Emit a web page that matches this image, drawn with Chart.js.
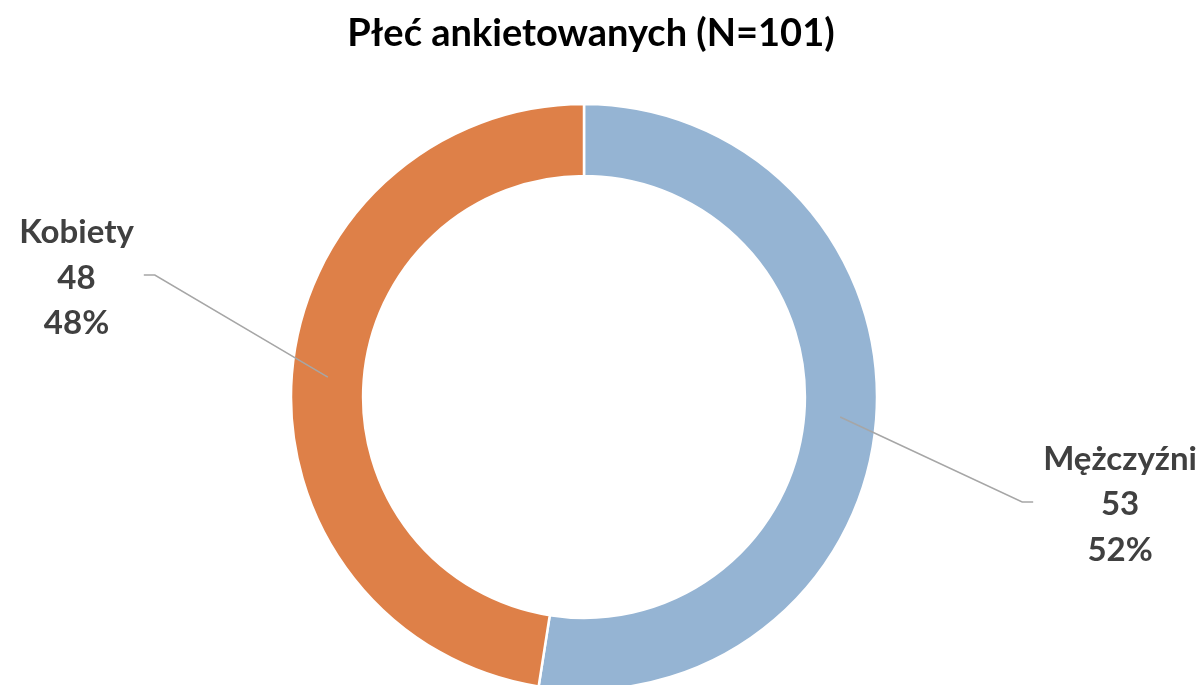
<!DOCTYPE html>
<html>
<head>
<meta charset="utf-8">
<script src="https://cdn.jsdelivr.net/npm/chart.js@4/dist/chart.umd.min.js"></script>
<style>
  html, body { margin: 0; padding: 0; background: #ffffff; }
  #wrap { width: 1204px; height: 685px; position: relative; }
</style>
</head>
<body>
<div id="wrap"><canvas id="c" width="1204" height="685"></canvas></div>
<script>
// ---- data ----
const categories = ['Mężczyźni', 'Kobiety'];
const counts = [53, 48];
const percentLabels = ['52%', '48%'];
const titleText = 'Płeć ankietowanych (N=101)';
const sliceColors = ['#95B4D3', '#DE8048'];

// ---- label layout (leader line elbow offsets relative to slice anchor) ----
const elbowOffsets = [[182, 85], [-173, -102]];
const FONT = 'Lato, Calibri, Carlito, "Open Sans", sans-serif';

const labelPlugin = {
  id: 'labelPlugin',
  afterDraw(chart) {
    const ctx = chart.ctx;
    ctx.save();
    // title
    ctx.fillStyle = '#000000';
    ctx.font = 'bold 38px ' + FONT;
    ctx.textAlign = 'center';
    ctx.textBaseline = 'alphabetic';
    ctx.fillText(titleText, 591, 46);

    const meta = chart.getDatasetMeta(0);
    meta.data.forEach((arc, i) => {
      const p = arc.getProps(['x', 'y', 'startAngle', 'endAngle', 'innerRadius', 'outerRadius'], true);
      const mid = (p.startAngle + p.endAngle) / 2;
      const r = (p.innerRadius + p.outerRadius) / 2;
      const sx = p.x + Math.cos(mid) * r;
      const sy = p.y + Math.sin(mid) * r;
      const ex = sx + elbowOffsets[i][0];
      const ey = sy + elbowOffsets[i][1];
      const dir = elbowOffsets[i][0] >= 0 ? 1 : -1;
      const hx = ex + dir * 11;
      ctx.strokeStyle = '#A6A6A6';
      ctx.lineWidth = 1.5;
      ctx.beginPath();
      ctx.moveTo(sx, sy);
      ctx.lineTo(ex, ey);
      ctx.lineTo(hx, ey);
      ctx.stroke();

      const lines = [categories[i], String(counts[i]), percentLabels[i]];
      ctx.font = 'bold 33px ' + FONT;
      const maxW = Math.max(...lines.map(t => ctx.measureText(t).width));
      const cx = hx + dir * (10 + maxW / 2);
      ctx.fillStyle = '#404040';
      ctx.textAlign = 'center';
      lines.forEach((t, k) => {
        ctx.fillText(t, cx, ey - 32 + k * 45.5);
      });
    });
    ctx.restore();
  }
};

new Chart(document.getElementById('c'), {
  type: 'doughnut',
  data: {
    labels: categories,
    datasets: [{
      data: counts,
      backgroundColor: sliceColors,
      borderColor: '#ffffff',
      borderWidth: 2.5
    }]
  },
  options: {
    responsive: false,
    animation: false,
    radius: 293,
    cutout: '75.4%',
    rotation: 0,
    layout: { padding: { top: 109, left: 0, right: 36, bottom: 0 } },
    plugins: {
      legend: { display: false },
      title: { display: false },
      tooltip: { enabled: false }
    }
  },
  plugins: [labelPlugin]
});
</script>
</body>
</html>
